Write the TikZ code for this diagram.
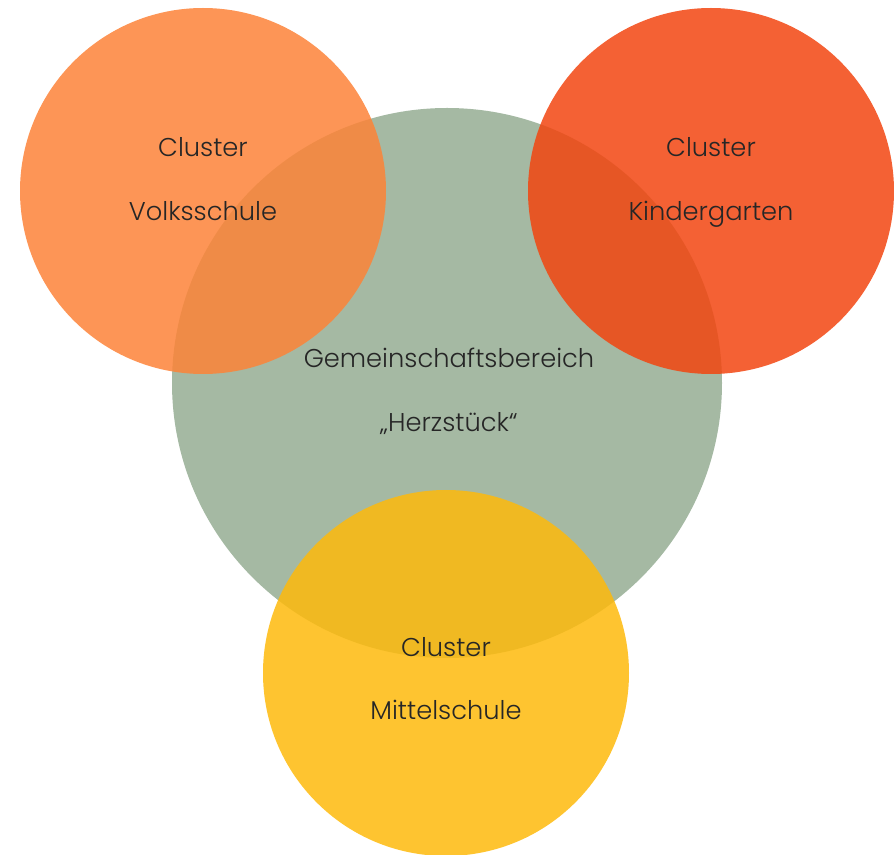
\documentclass[tikz,border=0pt]{standalone}
\usepackage{fontspec}
\setmainfont{Poppins Light}
\definecolor{herzgreen}{RGB}{165,185,163}
\definecolor{vsorange}{RGB}{253,131,56}
\definecolor{kgred}{RGB}{242,69,16}
\definecolor{msyellow}{RGB}{254,186,12}
\definecolor{labelgray}{RGB}{38,38,38}
\tikzset{
  cluster/.style={opacity=0.85},
  lbl/.style={anchor=base,inner sep=0pt,text=labelgray,font=\fontsize{19.3}{22}\selectfont}
}
\begin{document}
\begin{tikzpicture}[x=0.75pt,y=-0.75pt]
    \useasboundingbox (0,0) rectangle (894,855);
    % community area
    \fill[herzgreen] (447,383) circle (275);
    % clusters
    \fill[vsorange,cluster] (203,191) circle (183);
    \fill[kgred,cluster] (711,191) circle (183);
    \fill[msyellow,cluster] (446,673) circle (183);
    % labels
    \node[lbl] (vs1) at (203,157) {Cluster};
    \node[lbl] (vs2) at (203,221) {Volksschule};
    \node[lbl] (kg1) at (711,157) {Cluster};
    \node[lbl] (kg2) at (711,221) {Kindergarten};
    \node[lbl] (gb1) at (449,368) {Gemeinschaftsbereich};
    \node[lbl] (gb2) at (449,432) {„Herzstück“};
    \node[lbl] (ms1) at (446,657) {Cluster};
    \node[lbl] (ms2) at (446,720) {Mittelschule};
\end{tikzpicture}
\end{document}
